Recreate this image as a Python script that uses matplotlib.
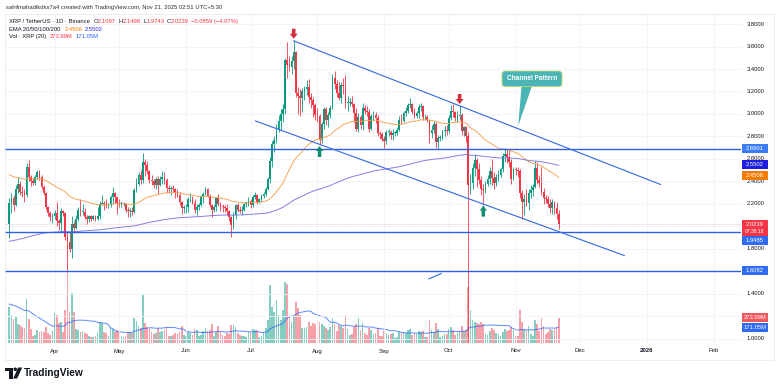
import numpy as np
import pandas as pd
import matplotlib
matplotlib.use("Agg")
import matplotlib.pyplot as plt
import matplotlib.dates as mdates
from matplotlib.patches import FancyBboxPatch, Polygon, Rectangle, Circle

W, H = 780, 388
FONT = "Liberation Sans"
INK = "#131722"
UP, DOWN = "#089981", "#f23645"
VOL_UP, VOL_DOWN = "#84cdc1", "#f8a0a7"
LINE_BLUE = "#2f5ee6"

# XRP / TetherUS daily candles (Binance), 11 Mar 2025 -> 21 Nov 2025
start_date = "2025-03-11"
first_open = 2.02

close = [
    2.21, 2.25, 2.19, 2.33, 2.38, 2.31, 2.30, 2.28, 2.53, 2.44, 2.40, 2.39, 2.44, 2.48, 2.44, 2.35, 2.30, 2.17, 2.12, 2.08, 2.09,  # Mar
    2.12, 2.05, 2.03, 2.14, 2.12, 1.91, 1.86, 1.80, 2.02, 1.99, 2.07, 2.15, 2.13, 2.13, 2.08, 2.07, 2.09, 2.07, 2.09, 2.07,
    2.09, 2.20, 2.21, 2.20, 2.19, 2.19, 2.26, 2.30, 2.26, 2.21,  # Apr
    2.20, 2.20, 2.20, 2.15, 2.14, 2.14, 2.13, 2.32, 2.38, 2.46, 2.41, 2.57, 2.55, 2.49, 2.41, 2.40, 2.37, 2.42, 2.37, 2.42,
    2.44, 2.41, 2.34, 2.33, 2.34, 2.33, 2.30, 2.28, 2.22, 2.16, 2.17,  # May
    2.17, 2.24, 2.24, 2.21, 2.15, 2.17, 2.19, 2.26, 2.29, 2.33, 2.27, 2.19, 2.15, 2.17, 2.25, 2.20, 2.18, 2.17, 2.16, 2.14,
    2.08, 2.01, 2.10, 2.19, 2.15, 2.14, 2.15, 2.20, 2.20, 2.23,  # Jun
    2.19, 2.26, 2.28, 2.22, 2.24, 2.27, 2.29, 2.33, 2.42, 2.58, 2.73, 2.77, 2.86, 2.94, 3.00, 3.04, 3.48, 3.44, 3.42, 3.47,
    3.55, 3.19, 3.16, 3.14, 3.20, 3.22, 3.24, 3.15, 3.12, 3.08, 2.99,  # Jul
    2.98, 2.77, 2.91, 3.04, 2.95, 2.99, 3.05, 3.32, 3.27, 3.19, 3.14, 3.26, 3.25, 3.10, 3.10, 3.11, 3.09, 3.01, 2.87, 2.97,
    2.90, 3.05, 3.03, 3.02, 2.87, 2.98, 2.99, 2.96, 2.83, 2.82, 2.78,  # Aug
    2.76, 2.84, 2.84, 2.81, 2.83, 2.83, 2.86, 2.95, 2.94, 3.01, 3.03, 3.08, 3.09, 3.02, 2.98, 3.01, 3.06, 3.07, 2.97, 2.97,
    2.95, 2.83, 2.86, 2.91, 2.75, 2.79, 2.79, 2.85, 2.86, 2.85,  # Sep
    2.96, 3.03, 3.02, 2.96, 2.98, 2.99, 2.85, 2.88, 2.80, 2.37, 2.39, 2.52, 2.59, 2.51, 2.41, 2.33, 2.32, 2.38, 2.42, 2.49,
    2.43, 2.39, 2.44, 2.46, 2.51, 2.63, 2.64, 2.62, 2.57, 2.42, 2.51,  # Oct
    2.50, 2.49, 2.30, 2.22, 2.24, 2.21, 2.30, 2.32, 2.35, 2.52, 2.41, 2.39, 2.31, 2.25, 2.24, 2.20, 2.16, 2.22, 2.16, 2.1097,
    2.0239,  # Nov
]

high = [
    2.25, 2.30, 2.28, 2.37, 2.44, 2.40, 2.36, 2.33, 2.56, 2.59, 2.46, 2.43, 2.46, 2.50, 2.50, 2.46, 2.37, 2.31, 2.18, 2.14, 2.12,
    2.15, 2.22, 2.07, 2.16, 2.15, 2.13, 1.95, 1.96, 2.09, 2.05, 2.10, 2.17, 2.24, 2.20, 2.16, 2.10, 2.10, 2.10, 2.10, 2.10,
    2.17, 2.23, 2.28, 2.23, 2.24, 2.21, 2.28, 2.35, 2.31, 2.26,
    2.24, 2.23, 2.22, 2.21, 2.17, 2.16, 2.17, 2.34, 2.43, 2.48, 2.50, 2.65, 2.60, 2.58, 2.50, 2.46, 2.42, 2.44, 2.45, 2.45,
    2.49, 2.48, 2.43, 2.37, 2.36, 2.37, 2.34, 2.33, 2.31, 2.23, 2.19,
    2.20, 2.26, 2.30, 2.27, 2.24, 2.20, 2.21, 2.28, 2.31, 2.35, 2.34, 2.29, 2.20, 2.19, 2.26, 2.29, 2.22, 2.20, 2.19, 2.20,
    2.15, 2.09, 2.13, 2.20, 2.21, 2.18, 2.18, 2.21, 2.22, 2.26,
    2.24, 2.28, 2.31, 2.29, 2.25, 2.29, 2.31, 2.35, 2.44, 2.62, 2.76, 2.80, 2.91, 2.99, 3.04, 3.09, 3.50, 3.64, 3.52, 3.52,
    3.66, 3.56, 3.24, 3.22, 3.23, 3.25, 3.30, 3.31, 3.19, 3.15, 3.10,
    3.05, 3.00, 2.93, 3.06, 3.06, 3.02, 3.08, 3.36, 3.38, 3.30, 3.28, 3.28, 3.32, 3.35, 3.16, 3.14, 3.16, 3.10, 3.05, 3.01,
    2.99, 3.10, 3.08, 3.07, 3.04, 3.00, 3.03, 3.02, 2.99, 2.85, 2.84,
    2.80, 2.86, 2.87, 2.86, 2.87, 2.85, 2.88, 2.98, 3.00, 3.03, 3.06, 3.10, 3.14, 3.10, 3.05, 3.03, 3.09, 3.10, 3.08, 3.00,
    2.99, 2.95, 2.90, 2.94, 2.93, 2.81, 2.81, 2.86, 2.89, 2.90,
    2.99, 3.08, 3.09, 3.03, 3.03, 3.08, 3.01, 2.89, 2.89, 2.84, 2.47, 2.56, 2.64, 2.61, 2.56, 2.45, 2.38, 2.40, 2.46, 2.53,
    2.60, 2.48, 2.47, 2.50, 2.52, 2.65, 2.70, 2.69, 2.68, 2.60, 2.53,
    2.53, 2.53, 2.51, 2.32, 2.29, 2.33, 2.33, 2.37, 2.38, 2.58, 2.57, 2.46, 2.53, 2.34, 2.28, 2.27, 2.24, 2.24, 2.23, 2.22,
    2.1498,
]

low = [
    1.90, 2.12, 2.14, 2.18, 2.30, 2.28, 2.26, 2.22, 2.26, 2.40, 2.36, 2.37, 2.37, 2.42, 2.41, 2.33, 2.28, 2.15, 2.09, 2.05, 2.03,
    2.07, 2.00, 1.97, 1.96, 2.09, 1.88, 1.61, 1.77, 1.72, 1.94, 1.98, 2.05, 2.09, 2.10, 2.07, 2.02, 2.04, 2.05, 2.06, 2.05,
    2.06, 2.07, 2.19, 2.15, 2.16, 2.16, 2.17, 2.20, 2.21, 2.11,
    2.17, 2.17, 2.18, 2.13, 2.08, 2.08, 2.10, 2.12, 2.31, 2.36, 2.38, 2.39, 2.45, 2.47, 2.39, 2.37, 2.34, 2.33, 2.29, 2.36,
    2.38, 2.38, 2.30, 2.30, 2.28, 2.31, 2.25, 2.26, 2.19, 2.11, 2.12,
    2.12, 2.13, 2.22, 2.20, 2.12, 2.10, 2.15, 2.18, 2.21, 2.28, 2.26, 2.17, 2.08, 2.13, 2.14, 2.18, 2.14, 2.13, 2.13, 2.10,
    2.05, 1.91, 1.98, 2.07, 2.13, 2.12, 2.10, 2.14, 2.17, 2.18,
    2.16, 2.17, 2.24, 2.20, 2.21, 2.22, 2.25, 2.27, 2.32, 2.39, 2.53, 2.66, 2.74, 2.84, 2.86, 2.93, 3.00, 3.32, 3.38, 3.36,
    3.40, 3.15, 3.00, 2.98, 3.02, 3.12, 3.17, 3.10, 3.05, 2.97, 2.95,
    2.93, 2.72, 2.74, 2.87, 2.90, 2.88, 2.96, 3.04, 3.22, 3.15, 3.12, 3.10, 3.18, 3.05, 3.03, 3.07, 3.06, 2.93, 2.85, 2.84,
    2.87, 2.86, 3.00, 2.98, 2.84, 2.86, 2.94, 2.92, 2.80, 2.78, 2.76,
    2.70, 2.73, 2.80, 2.78, 2.77, 2.80, 2.81, 2.85, 2.91, 2.93, 2.98, 3.01, 3.05, 3.00, 2.96, 2.96, 2.96, 3.03, 2.95, 2.95,
    2.93, 2.74, 2.79, 2.83, 2.70, 2.69, 2.76, 2.77, 2.80, 2.81,
    2.83, 2.95, 2.97, 2.94, 2.93, 2.95, 2.81, 2.80, 2.75, 0.90, 2.29, 2.33, 2.45, 2.35, 2.38, 2.28, 2.19, 2.30, 2.36, 2.38,
    2.37, 2.33, 2.36, 2.40, 2.44, 2.48, 2.57, 2.56, 2.53, 2.38, 2.41,
    2.46, 2.44, 2.25, 2.07, 2.10, 2.18, 2.15, 2.25, 2.27, 2.34, 2.38, 2.35, 2.28, 2.20, 2.21, 2.17, 2.12, 2.11, 2.11, 2.07,
    1.9743,
]

# volume in millions of XRP
volume = [
    390, 300, 260, 280, 200, 190, 170, 160, 470, 260, 150, 80, 90, 140, 120, 130, 120, 170, 110, 90, 130,
    320, 300, 220, 230, 120, 360, 875, 330, 535, 330, 150, 140, 120, 130, 110, 100, 80, 60, 60, 70,
    110, 230, 210, 120, 110, 70, 175, 150, 120, 140,
    120, 80, 60, 80, 110, 120, 110, 270, 240, 180, 160, 515, 220, 170, 150, 120, 100, 110, 160, 120,
    130, 140, 170, 80, 80, 90, 110, 100, 120, 180, 90,
    80, 120, 110, 90, 150, 140, 70, 90, 130, 160, 130, 140, 200, 80, 120, 180, 120, 90, 70, 110,
    100, 190, 190, 170, 110, 90, 80, 70, 60, 120,
    130, 150, 140, 140, 60, 80, 110, 160, 250, 620, 390, 330, 460, 300, 250, 350, 660, 640, 280, 230,
    280, 445, 380, 300, 160, 160, 170, 230, 180, 210, 200,
    170, 230, 200, 180, 160, 140, 170, 270, 200, 130, 190, 180, 160, 300, 150, 90, 100, 170, 200, 270,
    140, 220, 110, 90, 160, 140, 100, 110, 160, 80, 80,
    130, 110, 90, 100, 110, 50, 60, 120, 110, 120, 110, 140, 150, 90, 110, 100, 130, 120, 130, 60,
    60, 250, 140, 120, 220, 150, 60, 70, 100, 100,
    150, 170, 140, 90, 110, 130, 180, 130, 140, 605, 360, 250, 230, 220, 200, 230, 200, 100, 90, 130,
    160, 140, 110, 100, 70, 120, 150, 130, 140, 170, 140,
    80, 70, 350, 230, 150, 130, 180, 100, 80, 250, 200, 130, 270, 180, 100, 120, 150, 140, 150, 170,
    273.99,
]

# indicator starting points (values carried in from before the visible window)
ema50_seed = 2.47
ema200_seed = 1.865
vol_prior = 420.0

levels = [2.6901, 1.9485, 1.6082]
price_ticks = [3.8, 3.6, 3.4, 3.2, 3.0, 2.8, 2.6, 2.4, 2.2, 2.0, 1.8, 1.6, 1.4, 1.2, 1.0]
hidden_ticks = [2.0, 1.6, 1.2]  # covered by the value tags on the scale
month_ticks = ["2025-04-01", "2025-05-01", "2025-06-01", "2025-07-01", "2025-08-01", "2025-09-01",
               "2025-10-01", "2025-11-01", "2025-12-01", "2026-01-01", "2026-02-01"]
month_labels = ["Apr", "May", "Jun", "Jul", "Aug", "Sep", "Oct", "Nov", "Dec", "2026", "Feb"]

upper_channel = [("2025-07-20 19:00", 3.652), ("2026-01-07 10:00", 2.372)]
lower_channel = [("2025-07-03 00:00", 2.940), ("2025-12-21 17:00", 1.740)]
stray_segment = [("2025-09-21 12:00", 1.533), ("2025-09-27 17:00", 1.584)]
red_arrows = ["2025-07-21", "2025-10-06"]
green_arrows = ["2025-08-02", "2025-10-17"]


def ema(values, period, seed):
    alpha = 2.0 / (period + 1)
    out, prev = [], seed
    for v in values:
        prev = alpha * v + (1 - alpha) * prev
        out.append(prev)
    return np.array(out)


def vol_ma(values, period, prior):
    padded = [prior] * (period - 1) + list(values)
    return pd.Series(padded).rolling(period).mean().iloc[period - 1:].to_numpy()


def main():
    plt.rcParams["font.family"] = [FONT, "DejaVu Sans"]
    dates = pd.date_range(start_date, periods=len(close), freq="D")
    assert len(high) == len(low) == len(volume) == len(close)
    x = mdates.date2num(dates)
    c = np.array(close)
    o = np.array([first_open] + close[:-1])
    h = np.maximum(np.array(high), np.maximum(o, c))
    lo = np.minimum(np.array(low), np.minimum(o, c))
    up = c >= o

    fig = plt.figure(figsize=(W / 100, H / 100), dpi=100)
    fig.patch.set_facecolor("white")
    rect = [5 / W, (H - 343) / H, 736 / W, 329 / H]
    x0 = mdates.date2num(pd.Timestamp("2025-04-01"))
    xlim = (x0 - 23.0, x0 + 318.6)

    # volume pane (same box, own scale)
    axv = fig.add_axes(rect)
    axv.set_xlim(*xlim)
    axv.set_ylim(0, 3540)
    axv.axis("off")
    axv.bar(x, volume, width=0.78, color=np.where(up, VOL_UP, VOL_DOWN), lw=0)
    ma = vol_ma(volume, 20, vol_prior)
    axv.plot(x, ma, color="#2962ff", lw=0.7, alpha=0.75)

    # price pane
    ax = fig.add_axes(rect)
    ax.patch.set_alpha(0)
    ax.set_xlim(*xlim)
    ax.set_ylim(0.96444, 3.88889)
    ax.axis("off")
    for p in price_ticks:
        ax.axhline(p, color="#f0f3fa", lw=0.6, zorder=0)
    for m in month_ticks:
        ax.axvline(mdates.date2num(pd.Timestamp(m)), color="#f0f3fa", lw=0.6, zorder=0)

    colors = np.where(up, UP, DOWN)
    ax.vlines(x, lo, h, colors=colors, lw=0.6, zorder=3)
    ax.bar(x, np.maximum(np.abs(c - o), 0.006), bottom=np.minimum(o, c), width=0.8,
           color=colors, lw=0, zorder=4)

    e50 = ema(close, 50, ema50_seed)
    e200 = ema(close, 200, ema200_seed)
    ax.plot(x, e50, color="#f7a04b", lw=0.65, zorder=5)
    ax.plot(x, e200, color="#6f67dc", lw=0.7, alpha=0.85, zorder=5)

    for lv in levels:
        ax.axhline(lv, color=LINE_BLUE, lw=1.0, zorder=6)
    ax.axhline(close[-1], color="#f23645", lw=0.5, ls=(0, (1, 1.5)), alpha=0.5, zorder=6)

    for seg in (upper_channel, lower_channel, stray_segment):
        xs = [mdates.date2num(pd.Timestamp(d)) for d, _ in seg]
        ys = [p for _, p in seg]
        ax.plot(xs, ys, color="#3d6fe3", lw=0.85, zorder=6, solid_capstyle="butt")

    # overlay in pixel coordinates
    ov = fig.add_axes([0, 0, 1, 1])
    ov.set_xlim(0, W)
    ov.set_ylim(H, 0)
    ov.axis("off")
    ov.patch.set_alpha(0)
    renderer = fig.canvas.get_renderer()

    def px(axis, xd, yd):
        dx, dy = axis.transData.transform((xd, yd))
        return dx, H - dy

    ov.add_patch(Rectangle((5, 14), 769, 346, fill=False, ec="#e3e6ec", lw=0.5))

    # markers
    for d in red_arrows:
        i = list(dates).index(pd.Timestamp(d))
        cx, ty = px(ax, x[i], h[i])
        ty -= 1.0
        ov.add_patch(Polygon([(cx - 1.8, ty - 10), (cx + 1.8, ty - 10), (cx + 1.8, ty - 5), (cx + 4, ty - 5),
                              (cx, ty), (cx - 4, ty - 5), (cx - 1.8, ty - 5)], closed=True,
                             fc="#d12f3d", ec="none", zorder=8))
    for d in green_arrows:
        i = list(dates).index(pd.Timestamp(d))
        cx, ty = px(ax, x[i], lo[i])
        ty += 0.5
        ov.add_patch(Polygon([(cx, ty), (cx + 3.6, ty + 5), (cx + 1.7, ty + 5), (cx + 1.7, ty + 11),
                              (cx - 1.7, ty + 11), (cx - 1.7, ty + 5), (cx - 3.6, ty + 5)], closed=True,
                             fc="#0e8d6e", ec="none", zorder=8))

    # callout
    ov.add_patch(Polygon([(521.5, 86), (532, 86), (518.3, 125.5)], closed=True, fc="#4bb4b4", ec="none", zorder=8))
    ov.add_patch(FancyBboxPatch((502, 71), 60, 15.5, boxstyle="round,pad=0,rounding_size=3",
                                fc="#4bb4b4", ec="#c3d66e", lw=0.6, zorder=9))
    ov.text(532, 78.9, "Channel Pattern", color="white", fontsize=4.7, fontweight="bold",
            ha="center", va="center", zorder=10)

    # price scale
    for p in price_ticks:
        if p in hidden_ticks:
            continue
        _, yp = px(ax, 0, p)
        ov.text(755.5, yp, f"{p:.4f}", fontsize=4.2, color=INK, ha="center", va="center", zorder=7)

    def tag(yc, label, color, height=9.0, sub=None):
        ov.add_patch(Rectangle((742, yc - height / 2), 25.5, height, fc=color, ec="none", zorder=9))
        if sub is None:
            ov.text(754.7, yc, label, fontsize=4.2, color="white", ha="center", va="center", zorder=10)
        else:
            ov.text(754.7, yc - 3.6, label, fontsize=4.2, color="white", ha="center", va="center", zorder=10)
            ov.text(754.7, yc + 3.9, sub, fontsize=3.6, color="white", ha="center", va="center", zorder=10)

    tag(px(ax, 0, levels[0])[1], "2.6901", "#3b7cf4")
    tag(px(ax, 0, 2.5502)[1], "2.5502", "#1f1fe0")
    tag(px(ax, 0, 2.4506)[1], "2.4506", "#f57c00")
    _, yc = px(ax, 0, close[-1])
    tag(yc + 4.0, "2.0239", "#f23645", height=16.5, sub="07:38:18")
    tag(px(ax, 0, levels[1])[1] + 8.3, "1.9485", "#2f6cf2")
    tag(px(ax, 0, levels[2])[1], "1.6082", "#2f6cf2")
    tag(px(axv, 0, 273.99)[1], "273.99M", "#f0585f")
    tag(px(axv, 0, 171.05)[1], "171.05M", "#2f6cf2")

    # time axis
    for m, lab in zip(month_ticks, month_labels):
        xp, _ = px(ax, mdates.date2num(pd.Timestamp(m)), 1.0)
        ov.text(xp, 351, lab, fontsize=4.3, color=INK, ha="center", va="center",
                fontweight="bold" if lab == "2026" else "normal")

    # legend text
    def runs(xs, y, parts, size=4.2):
        for text, color, gap in parts:
            t = ov.text(xs, y, text, fontsize=size, color=color, ha="left", va="center", zorder=10)
            xs += t.get_window_extent(renderer).width + gap

    ov.text(5.5, 7, "sahilmahadikdks7a4 created with TradingView.com, Nov 21, 2025 02:51 UTC+5:30",
            fontsize=4.25, color="#2a2e39", ha="left", va="center")
    red = "#f23645"
    runs(9, 21.7, [("XRP / TetherUS · 1D · Binance", INK, 3.5), ("O", INK, 0), ("2.1097", red, 2.5),
                   ("H", INK, 0), ("2.1498", red, 2.5), ("L", INK, 0), ("1.9743", red, 2.5),
                   ("C", INK, 0), ("2.0239", red, 2.5), ("\u22120.0859 (\u22124.07%)", red, 0)])
    runs(9, 29.3, [("EMA 20/50/100/200", INK, 4), ("2.4506", "#f57c00", 2.5), ("2.5502", "#2a2ad6", 0)])
    runs(9, 36.8, [("Vol · XRP (20)", INK, 3.5), ("273.99M", red, 3), ("171.05M", "#2962ff", 0)])

    # TradingView logo
    ov.add_patch(Polygon([(5, 367.5), (12.5, 367.5), (12.5, 378.5), (8.8, 378.5), (8.8, 371), (5, 371)],
                         closed=True, fc=INK, ec="none"))
    ov.add_patch(Circle((15.3, 369.3), 1.8, fc=INK, ec="none"))
    ov.add_patch(Polygon([(13.2, 378.5), (18.2, 367.5), (22.2, 367.5), (17.2, 378.5)], closed=True, fc=INK, ec="none"))
    ov.text(24, 373.2, "TradingView", fontsize=7.3, fontweight="bold", color=INK, ha="left", va="center")

    fig.savefig("out.png", dpi=100, facecolor="white")


if __name__ == "__main__":
    main()
